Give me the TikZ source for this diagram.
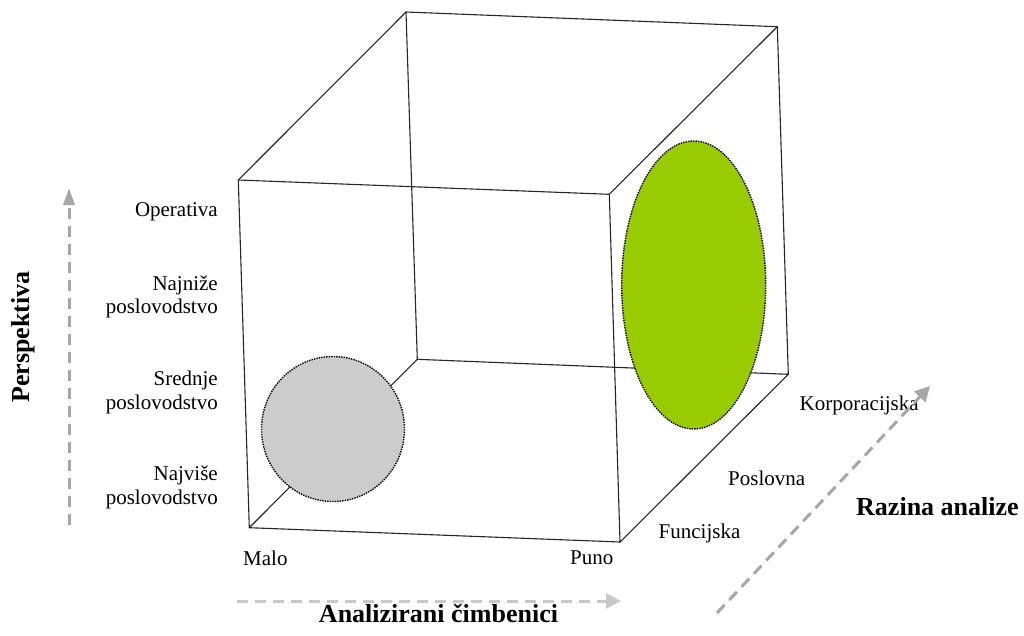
\documentclass[tikz,border=0pt]{standalone}
\usepackage{fontspec}
\setmainfont{Liberation Serif}
\usetikzlibrary{arrows.meta}
\definecolor{lgreen}{HTML}{99CC00}
\definecolor{lgray}{HTML}{CCCCCC}
\definecolor{arrlight}{HTML}{C8C8C8}
\definecolor{arrdark}{HTML}{A6A6A6}
\tikzset{
  edge/.style={draw=black!85, line width=1.1pt},
  blob/.style={draw=black, line width=1.4pt, dash pattern=on 1.4pt off 1.1pt},
  lbl/.style={inner sep=0pt, font=\fontsize{21}{23.5}\selectfont, align=right},
  bold/.style={inner sep=0pt, font=\fontsize{26}{30}\selectfont\bfseries},
  axis/.style={line width=3pt, dash pattern=on 11pt off 7pt, -{Triangle[length=15pt,width=15pt]}},
}
\begin{document}
\begin{tikzpicture}[x=1pt,y=-1pt]
\useasboundingbox (0,0) rectangle (1024,635);
% cube corners
\coordinate (FTL) at (238.3,180);
\coordinate (FTR) at (609.3,194.3);
\coordinate (FBL) at (249.3,527.7);
\coordinate (FBR) at (620,542);
\coordinate (BTL) at (406,12);
\coordinate (BTR) at (777.3,26.7);
\coordinate (BBL) at (417.3,359.3);
\coordinate (BBR) at (788.3,374.3);
% edges
\draw[edge] (BTL) -- (BTR) -- (BBR) -- (BBL) -- cycle;
\draw[edge] (FTL) -- (FTR) -- (FBR) -- (FBL) -- cycle;
\draw[edge] (FTL) -- (BTL);
\draw[edge] (FTR) -- (BTR);
\draw[edge] (FBL) -- (BBL);
\draw[edge] (FBR) -- (BBR);
% blobs
\draw[blob, fill=lgray] (333,429) ellipse [x radius=71.5, y radius=72.5];
\draw[blob, fill=lgreen] (693.7,285) ellipse [x radius=72, y radius=144];
% left labels
\node[lbl, anchor=east] (op) at (218,212) {Operativa};
\node[lbl, anchor=east] (nn) at (218,297) {Najniže\\poslovodstvo};
\node[lbl, anchor=east] (sr) at (218,392.5) {Srednje\\poslovodstvo};
\node[lbl, anchor=east] (nv) at (218,487.5) {Najviše\\poslovodstvo};
% bottom labels
\node[lbl, anchor=west] (malo) at (243,558) {Malo};
\node[lbl, anchor=east] (puno) at (613.5,558) {Puno};
% depth labels
\node[lbl, anchor=west] (fun) at (658.5,533) {Funcijska};
\node[lbl, anchor=west] (pos) at (728,478) {Poslovna};
\node[lbl, anchor=west] (kor) at (799.5,405) {Korporacijska};
% axis titles
\node[bold, anchor=west] (raz) at (856,507) {Razina analize};
\node[bold] (ana) at (438.5,613) {Analizirani čimbenici};
\node[bold, rotate=90] (per) at (23,337) {Perspektiva};
% axis arrows
\coordinate (hs) at (237,601);
\coordinate (he) at (621,601);
\coordinate (vs) at (69,525);
\coordinate (ve) at (69,188);
\coordinate (ds) at (717,613);
\coordinate (de) at (930,386);
\draw[axis, draw=arrlight, fill=arrlight] (hs) -- (he);
\draw[axis, draw=arrdark, fill=arrdark, -{Triangle[length=17pt,width=11pt]}] (vs) -- (ve);
\draw[axis, draw=arrdark, fill=arrdark] (ds) -- (de);
\end{tikzpicture}
\end{document}
